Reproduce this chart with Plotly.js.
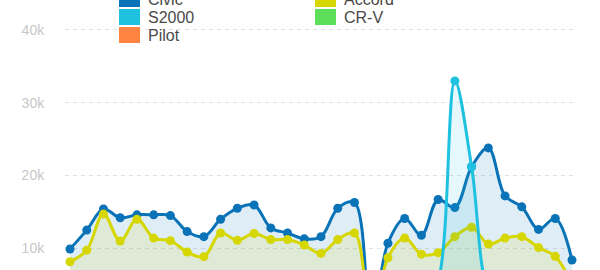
<!DOCTYPE html>
<html>
<head>
<meta charset="utf-8">
<script src="https://cdn.plot.ly/plotly-3.0.1.min.js"></script>
<style>
html,body{margin:0;padding:0;background:#fff;overflow:hidden;}
#chart{width:600px;height:270px;}
</style>
</head>
<body>
<div id="chart"></div>
<script>
// ---- data ----
const days = [1,2,3,4,5,6,7,8,9,10,11,12,13,14,15,16,17,18,19,20,21,22,23,24,25,26,27,28,29,30,31];
const civic  = [9900,12500,15400,14200,14600,14600,14500,12300,11600,14000,15500,15950,12800,12100,11300,11600,15500,16300,0,10700,14100,11800,16700,15600,21200,23800,17200,15700,12600,14100,8400];
const accord = [8150,9750,14700,11000,14000,11400,11050,9500,8850,12100,11100,12050,11200,11200,10450,9300,11200,12100,0,8700,11400,9200,9400,11600,12900,10600,11400,11600,10100,8900,5000];
const s2000  = [0,0,0,0,0,0,0,0,0,0,0,0,0,0,0,0,0,0,0,0,0,1500,5500,33000,21200,4000,1200,0,0,0,0];
const pilot  = [1200,1500,1800,1400,1600,1500,1300,1200,1100,1400,1600,1700,1300,1200,1100,1200,1600,1700,0,1100,1400,1200,1700,1600,1900,2100,1700,1500,1300,1400,900];
const crv    = [3100,3600,4200,3500,3900,3600,3400,3100,2900,3600,3900,4000,3300,3200,3000,3100,3900,4100,0,2900,3600,3100,3800,3700,4300,4600,3900,3700,3200,3500,2300];
const names  = ['Civic','Accord','S2000','CR-V','Pilot'];
const colors = ['#0a73b8','#d6d600','#1fc1e0','#5ddf5a','#ff8442'];
const fills  = ['rgba(10,115,184,0.13)','rgba(214,214,0,0.13)','rgba(31,193,224,0.11)','rgba(93,223,90,0.13)','rgba(255,132,66,0.13)'];
const yTicks = [10000,20000,30000,40000];
const yTickText = ['10k','20k','30k','40k'];
const series = [civic, accord, s2000, crv, pilot];

// ---- layout helpers ----
const W = 600, H = 270, ML = 65, MR = 27;
const PW = W - ML - MR;
const px = x => (x - ML) / PW;
const py = y => (H - y) / H;

const traces = series.map((vals, i) => ({
  x: days, y: vals, name: names[i], type: 'scatter', mode: 'lines+markers',
  line: {color: colors[i], width: 3, shape: 'spline', smoothing: 1},
  marker: {color: colors[i], size: 9},
  fill: 'tozeroy', fillcolor: fills[i],
  cliponaxis: false, showlegend: false, hoverinfo: 'skip'
}));

// legend drawn as shapes + text (two columns: Civic/S2000/Pilot, Accord/CR-V)
const legendPos = {
  'Civic':  {col: 0, row: 0},
  'S2000':  {col: 0, row: 1},
  'Pilot':  {col: 0, row: 2},
  'Accord': {col: 1, row: 0},
  'CR-V':   {col: 1, row: 1}
};
const colX = [119, 315];
const shapes = [], annotations = [];
names.forEach((n, i) => {
  const p = legendPos[n];
  const cy = -1 + p.row * 18;
  const x0 = colX[p.col];
  shapes.push({type: 'rect', xref: 'paper', yref: 'paper',
    x0: px(x0), x1: px(x0 + 21), y0: py(cy - 8), y1: py(cy + 8),
    fillcolor: colors[i], line: {width: 0}, layer: 'above'});
  annotations.push({xref: 'paper', yref: 'paper', x: px(x0 + 27), y: py(cy + 0.5),
    xanchor: 'left', yanchor: 'middle', showarrow: false, text: n,
    font: {family: 'Liberation Sans, Arial, sans-serif', size: 16, color: '#4a4a4a'}});
});

const layout = {
  width: W, height: H,
  margin: {l: ML, r: MR, t: 0, b: 0, pad: 0},
  paper_bgcolor: '#fff', plot_bgcolor: '#fff',
  showlegend: false,
  xaxis: {range: [0.701, 31.06], showgrid: false, zeroline: false, showline: false,
          showticklabels: false, ticks: '', fixedrange: true},
  yaxis: {range: [7020, 44120], tickvals: yTicks, ticktext: yTickText,
          showgrid: true, gridcolor: '#e2e2e2', gridwidth: 1, griddash: '4px,4px',
          zeroline: false, showline: false, ticks: 'outside', ticklen: 17,
          tickcolor: 'rgba(0,0,0,0)',
          tickfont: {family: 'Liberation Sans, Arial, sans-serif', size: 14, color: '#c8c8c8'},
          fixedrange: true},
  shapes: shapes, annotations: annotations
};

Plotly.newPlot('chart', traces, layout, {displayModeBar: false, staticPlot: true});
</script>
</body>
</html>
